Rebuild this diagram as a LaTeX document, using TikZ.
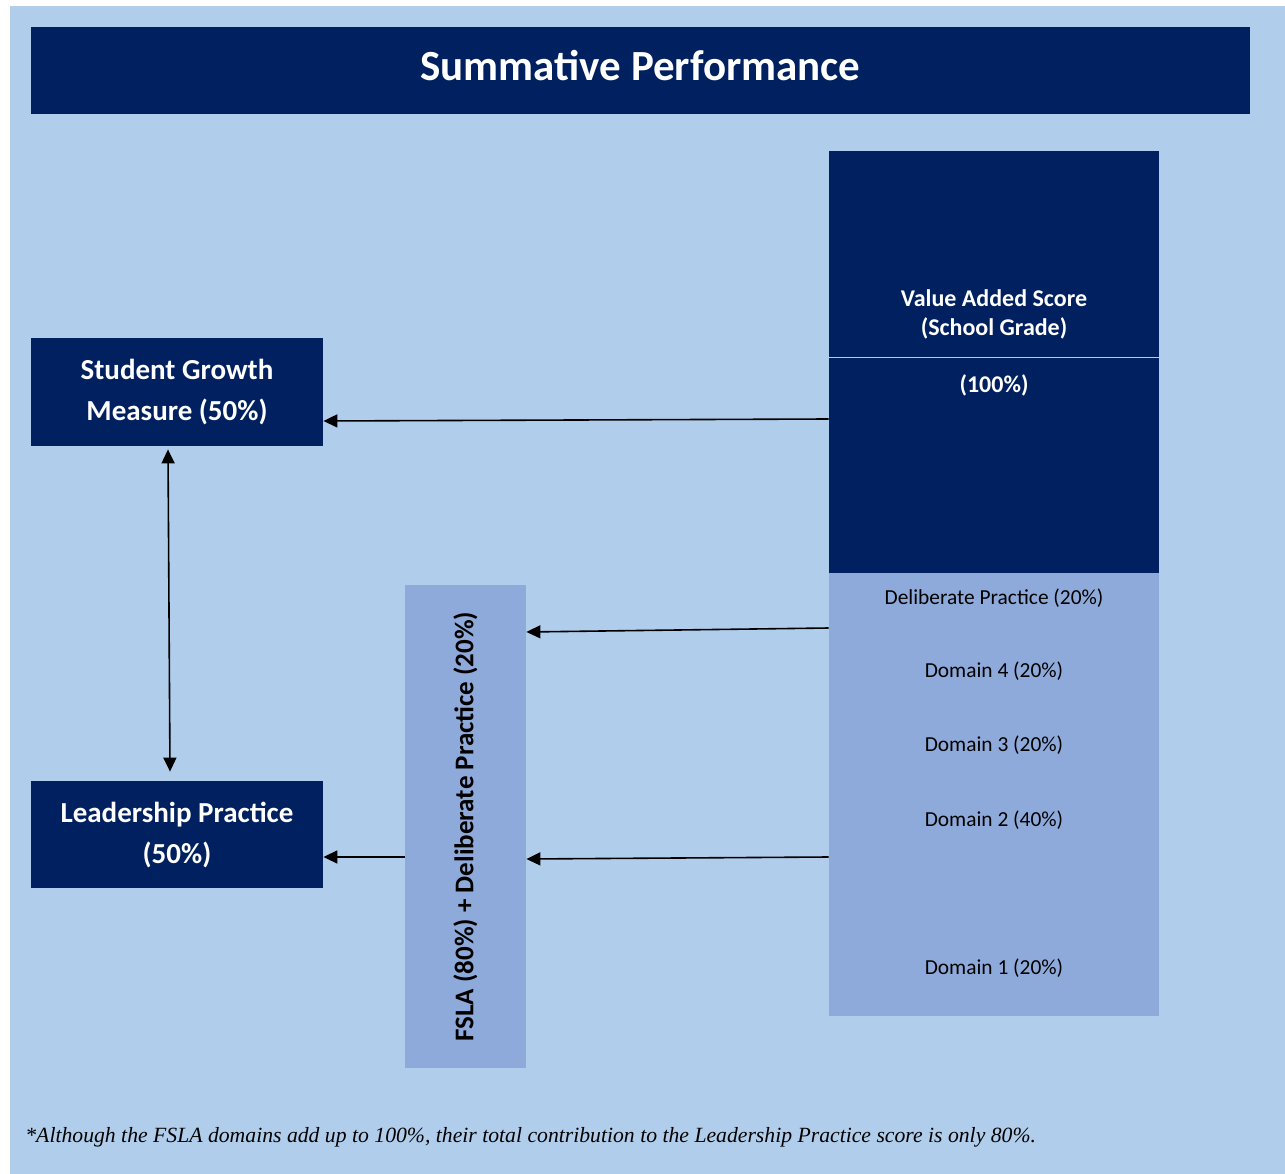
\documentclass[tikz,border=0pt]{standalone}
\usepackage{fontspec}
\setmainfont{Carlito}
\newfontfamily\notefont{Liberation Serif}
\usepackage{tikz}
\usetikzlibrary{arrows.meta,positioning,calc}
\definecolor{navy}{RGB}{0,32,96}
\definecolor{skyback}{RGB}{176,206,235}
\definecolor{paleblue}{RGB}{142,170,219}

\begin{document}
\begin{tikzpicture}[x=1pt, y=-1pt, thick,
        block/.style={rectangle, fill=navy, text=white, font=\fontsize{29}{41}\selectfont\bfseries, align=center, inner sep=0pt},
        part/.style={font=\fontsize{21.4}{24}\selectfont, text=black, inner sep=0pt},
        arr/.style={-{Triangle[length=14pt,width=13pt]}, line width=1.6pt, black}]

        \useasboundingbox (0,0) rectangle (1285,1174);
        \fill [skyback] (10,6) rectangle (1285,1174);

        \node [block, minimum width=1219pt, minimum height=87pt] (titlebar) at (640.5,70.5) {};
        \node [block, font=\fontsize{43}{48}\selectfont\bfseries] (title) at (640.5,66) {Summative Performance};

        \node [block, minimum width=292pt, minimum height=108pt] (growth) at (177,392) {Student Growth\\Measure (50\%)};
        \node [block, minimum width=292pt, minimum height=107pt] (leader) at (177,834.5) {Leadership Practice\\(50\%)};

        \node [rectangle, fill=paleblue, minimum width=483pt, minimum height=121pt, rotate=90, inner sep=0pt,
               font=\fontsize{27}{30}\selectfont\bfseries] (fsla) at (465.5,826.5) {FSLA (80\%) + Deliberate Practice (20\%)};

        % value added column
        \node [block, minimum width=330pt, minimum height=422pt] (vas) at (994,362) {};
        \draw [skyback, line width=1pt] (829,357) -- (1159,357);
        \node [block, font=\fontsize{24}{29}\selectfont\bfseries] (vasname) at (994,314) {Value Added Score\\(School Grade)};
        \node [block, font=\fontsize{24}{28}\selectfont\bfseries] (vasweight) at (994,385) {(100\%)};

        % FSLA parts
        \node [rectangle, fill=paleblue, minimum width=330pt, minimum height=443pt, inner sep=0pt] (parts) at (994,794.5) {};
        \node [part] (dp) at (994,598) {Deliberate Practice (20\%)};
        \node [part] (dom4) at (994,671) {Domain 4 (20\%)};
        \node [part] (dom3) at (994,745) {Domain 3 (20\%)};
        \node [part] (dom2) at (994,820) {Domain 2 (40\%)};
        \node [part] (dom1) at (994,968) {Domain 1 (20\%)};

        \draw [arr] ([yshift=-57pt]vas.west) -- ([yshift=-29pt]growth.east);
        \draw [arr] ([yshift=166.5pt]parts.west) -- ([yshift=194.5pt]fsla.south);
        \draw [arr] ([yshift=-62.5pt]parts.west) -- ([yshift=-32.5pt]fsla.south);
        \draw [arr] ([yshift=-30.5pt]fsla.north) -- ([yshift=-22.5pt]leader.east);
        \draw [arr, {Triangle[length=14pt,width=13pt]}-{Triangle[length=14pt,width=13pt]}] ([xshift=-9pt,yshift=-3pt]growth.south) -- ([xshift=-7pt,yshift=9pt]leader.north);

        \node [anchor=west, inner sep=0pt, font=\notefont\itshape\fontsize{21.7}{24}\selectfont] (note) at (25,1137) {*Although the FSLA domains add up to 100\%, their total contribution to the Leadership Practice score is only 80\%.};
    \end{tikzpicture}
\end{document}
